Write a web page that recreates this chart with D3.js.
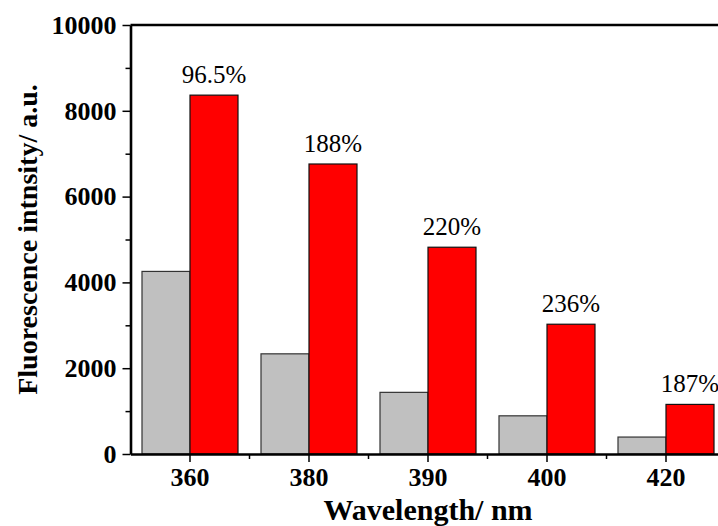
<!DOCTYPE html>
<html>
<head>
<meta charset="utf-8">
<script src="https://cdn.jsdelivr.net/npm/d3@7"></script>
<style>
  body { margin: 0; background: #fff; }
  svg { display: block; }
  svg text { font-family: 'Liberation Serif', 'Times New Roman', 'DejaVu Serif', serif; }
</style>
</head>
<body>
<svg id="chart" width="718" height="526"></svg>
<script>
const wavelengths = ['360', '380', '390', '400', '420'];
const controlValues = [4256, 2335, 1437, 890, 395];
const enhancedValues = [8365, 6760, 4820, 3025, 1156];
const enhanceLabels = ['96.5%', '188%', '220%', '236%', '187%'];
const yTicks = [0, 2000, 4000, 6000, 8000, 10000];
const yMinorTicks = [1000, 3000, 5000, 7000, 9000];

const serif = "'Liberation Serif', 'Times New Roman', 'DejaVu Serif', serif";
const svg = d3.select('#chart');

const margin = {left: 130.5, top: 25, bottom: 72};
const plotW = 595;
const plotH = 526 - margin.top - margin.bottom;

const g = svg.append('g').attr('transform', 'translate(' + margin.left + ',' + margin.top + ')');

const xScale = d3.scaleBand()
  .domain(wavelengths)
  .range([0, plotW]);

const yScale = d3.scaleLinear()
  .domain([0, 10000])
  .range([plotH, 0]);

const barW = 48;

// bars (grey = before, red = after)
const groups = g.selectAll('.g_bar')
  .data(wavelengths)
  .enter()
  .append('g')
  .attr('class', 'g_bar');

groups.append('rect')
  .attr('x', d => xScale(d) + xScale.bandwidth() / 2 - barW)
  .attr('y', (d, i) => yScale(controlValues[i]))
  .attr('width', barW)
  .attr('height', (d, i) => plotH - yScale(controlValues[i]))
  .style('fill', '#c0c0c0')
  .style('stroke', '#333')
  .style('stroke-width', 1.2);

groups.append('rect')
  .attr('x', d => xScale(d) + xScale.bandwidth() / 2)
  .attr('y', (d, i) => yScale(enhancedValues[i]))
  .attr('width', barW)
  .attr('height', (d, i) => plotH - yScale(enhancedValues[i]))
  .style('fill', '#ff0000')
  .style('stroke', '#111')
  .style('stroke-width', 1.2);

groups.append('text')
  .attr('x', d => xScale(d) + xScale.bandwidth() / 2 + barW / 2)
  .attr('y', (d, i) => yScale(enhancedValues[i]) - 12)
  .attr('text-anchor', 'middle')
  .style('font-family', serif)
  .style('font-size', '25px')
  .style('fill', '#000')
  .text((d, i) => enhanceLabels[i]);

// y axis
const yAxis = g.append('g')
  .attr('class', 'g_y_axis')
  .call(d3.axisLeft(yScale).tickValues(yTicks).tickFormat(d3.format('d'))
    .tickSize(8).tickSizeOuter(0).tickPadding(6));

const yMinor = g.append('g')
  .call(d3.axisLeft(yScale).tickValues(yMinorTicks).tickSize(5).tickSizeOuter(0).tickFormat(''));
yMinor.select('.domain').remove();
yMinor.selectAll('.tick line').style('stroke', '#000').style('stroke-width', 1.5);

// x axis
const xAxis = g.append('g')
  .attr('class', 'g_x_axis')
  .attr('transform', 'translate(0,' + plotH + ')')
  .call(d3.axisBottom(xScale).tickSize(8).tickSizeOuter(0).tickPadding(6));

const minorX = wavelengths.slice(0, -1).map(d => xScale(d) + xScale.bandwidth());
g.append('g')
  .selectAll('line')
  .data(minorX)
  .enter()
  .append('line')
  .attr('x1', d => d).attr('x2', d => d)
  .attr('y1', plotH).attr('y2', plotH + 5)
  .style('stroke', '#000')
  .style('stroke-width', 1.5);

[xAxis, yAxis].forEach(ax => {
  ax.attr('font-family', null);
  ax.select('.domain').style('stroke', '#000').style('stroke-width', 2.6);
  ax.selectAll('.tick line').style('stroke', '#000').style('stroke-width', 1.5);
  ax.selectAll('.tick text')
    .style('font-family', serif)
    .style('font-weight', 'bold')
    .style('font-size', '26px')
    .style('fill', '#000');
});

// top frame line
g.append('line')
  .attr('x1', 0).attr('x2', plotW)
  .attr('y1', 0).attr('y2', 0)
  .style('stroke', '#000')
  .style('stroke-width', 2.6);

// axis titles
svg.append('text')
  .attr('x', margin.left + plotW / 2)
  .attr('y', 519.5)
  .attr('text-anchor', 'middle')
  .style('font-family', serif)
  .style('font-weight', 'bold')
  .style('font-size', '30px')
  .text('Wavelength/ nm');

svg.append('text')
  .attr('transform', 'translate(37,' + (margin.top + plotH / 2) + ') rotate(-90)')
  .attr('text-anchor', 'middle')
  .style('font-family', serif)
  .style('font-weight', 'bold')
  .style('font-size', '28px')
  .text('Fluorescence intnsity/ a.u.');
</script>
</body>
</html>
